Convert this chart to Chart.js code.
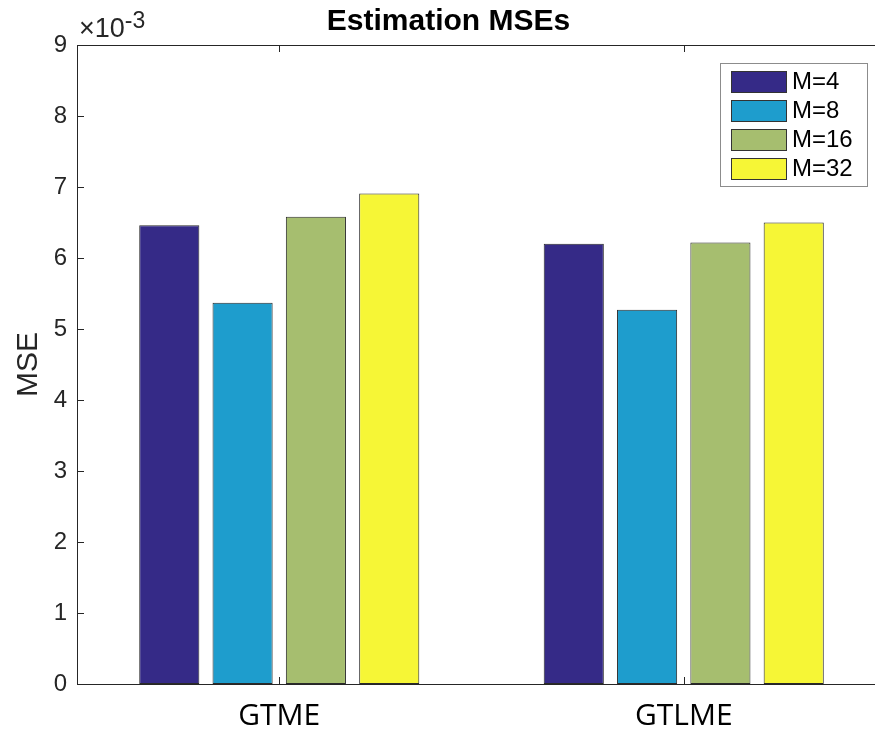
<!DOCTYPE html>
<html>
<head>
<meta charset="utf-8">
<script src="https://cdn.jsdelivr.net/npm/chart.js@4"></script>
<style>
  html, body { margin: 0; padding: 0; background: #fff; overflow: hidden; }
  #wrap { width: 964px; height: 736px; }
</style>
</head>
<body>
<div id="wrap"><canvas id="mseChart" width="964" height="736"></canvas></div>
<script>
// data (values in units of 1e-3)
const methods = ["GTME", "GTLME"];
const seriesNames = ["M=4", "M=8", "M=16", "M=32"];
const mse_M4 = [6.46, 6.20];
const mse_M8 = [5.37, 5.27];
const mse_M16 = [6.58, 6.22];
const mse_M32 = [6.91, 6.50];
const yTicks = [0, 1, 2, 3, 4, 5, 6, 7, 8, 9];

const barColors = ["#352a87", "#1e9dcd", "#a6be6f", "#f6f636"];
const allValues = [mse_M4, mse_M8, mse_M16, mse_M32];

// draws box, inward ticks, exponent label and the legend (matlab look)
const matlabBits = {
    id: "matlabBits",
    afterDraw(chart) {
        const ctx = chart.ctx;
        const a = chart.chartArea;
        const xs = chart.scales.x, ys = chart.scales.y;
        ctx.save();
        ctx.strokeStyle = "#262626";
        ctx.lineWidth = 1;
        ctx.strokeRect(a.left + 0.5, a.top + 0.5, a.right - a.left, a.bottom - a.top);
        ctx.beginPath();
        yTicks.forEach(function (t) {
            const y = Math.round(ys.getPixelForValue(t)) + 0.5;
            ctx.moveTo(a.left, y); ctx.lineTo(a.left + 7, y);
            ctx.moveTo(a.right, y); ctx.lineTo(a.right - 7, y);
        });
        methods.forEach(function (m, i) {
            const x = Math.round(xs.getPixelForValue(i)) + 0.5;
            ctx.moveTo(x, a.bottom); ctx.lineTo(x, a.bottom - 7);
            ctx.moveTo(x, a.top); ctx.lineTo(x, a.top + 7);
        });
        ctx.stroke();

        // x10^-3
        ctx.fillStyle = "#262626";
        ctx.textBaseline = "alphabetic";
        ctx.textAlign = "left";
        ctx.font = "27px 'Liberation Sans'";
        ctx.fillText("\u00d710", a.left + 2, 37);
        const w = ctx.measureText("\u00d710").width;
        ctx.font = "23px 'Liberation Sans'";
        ctx.fillText("-3", a.left + 2 + w, 28);

        // legend
        const lx = 720, ly = 63, lw = 147, lh = 123;
        ctx.fillStyle = "#fff";
        ctx.fillRect(lx, ly, lw, lh);
        ctx.strokeStyle = "#8c8c8c";
        ctx.strokeRect(lx + 0.5, ly + 0.5, lw, lh);
        ctx.font = "24px 'Liberation Sans'";
        ctx.textBaseline = "middle";
        chart.data.datasets.forEach(function (ds, i) {
            const sy = 71 + i * 29;
            ctx.fillStyle = ds.backgroundColor;
            ctx.fillRect(731, sy, 55, 21);
            ctx.strokeStyle = "#333";
            ctx.strokeRect(731.5, sy + 0.5, 55, 21);
            ctx.fillStyle = "#000";
            ctx.fillText(ds.label, 792, sy + 11);
        });
        ctx.restore();
    }
};

const whiteBg = {
    id: "whiteBg",
    beforeDraw(chart) {
        const ctx = chart.ctx;
        ctx.save();
        ctx.fillStyle = "#fff";
        ctx.fillRect(0, 0, chart.width, chart.height);
        ctx.restore();
    }
};

new Chart(document.getElementById("mseChart").getContext("2d"), {
    type: "bar",
    data: {
        labels: methods,
        datasets: seriesNames.map(function (name, i) {
            return {
                label: name,
                data: allValues[i],
                backgroundColor: barColors[i],
                borderColor: "#2a2a2a",
                borderWidth: 1,
                borderSkipped: false,
                categoryPercentage: 0.725,
                barPercentage: 0.82
            };
        })
    },
    options: {
        responsive: false,
        animation: false,
        layout: { padding: { left: 11, right: 78, top: 0, bottom: 0 } },
        plugins: {
            legend: { display: false },
            tooltip: { enabled: false },
            title: {
                display: true,
                text: "Estimation MSEs",
                color: "#000",
                font: { family: "'Liberation Sans'", size: 30, weight: "bold", lineHeight: 1.2 },
                padding: { top: 4, bottom: 5 }
            }
        },
        scales: {
            x: {
                grid: { display: false, drawTicks: false },
                border: { display: false },
                ticks: {
                    color: "#000",
                    padding: 14,
                    font: { family: "'Open Sans'", size: 30 }
                },
                afterFit(scale) { scale.height = 52; }
            },
            y: {
                min: 0,
                max: 9,
                afterBuildTicks(scale) {
                    scale.ticks = yTicks.map(function (v) { return { value: v }; });
                },
                grid: { display: false, drawTicks: false },
                border: { display: false },
                ticks: {
                    color: "#262626",
                    padding: 10,
                    font: { family: "'Liberation Sans'", size: 24 }
                },
                title: {
                    display: true,
                    text: "MSE",
                    color: "#262626",
                    padding: 0,
                    font: { family: "'Liberation Sans'", size: 30, lineHeight: 1.2 }
                },
                afterFit(scale) { scale.width = 66; }
            }
        }
    },
    plugins: [whiteBg, matlabBits]
});
</script>
</body>
</html>
